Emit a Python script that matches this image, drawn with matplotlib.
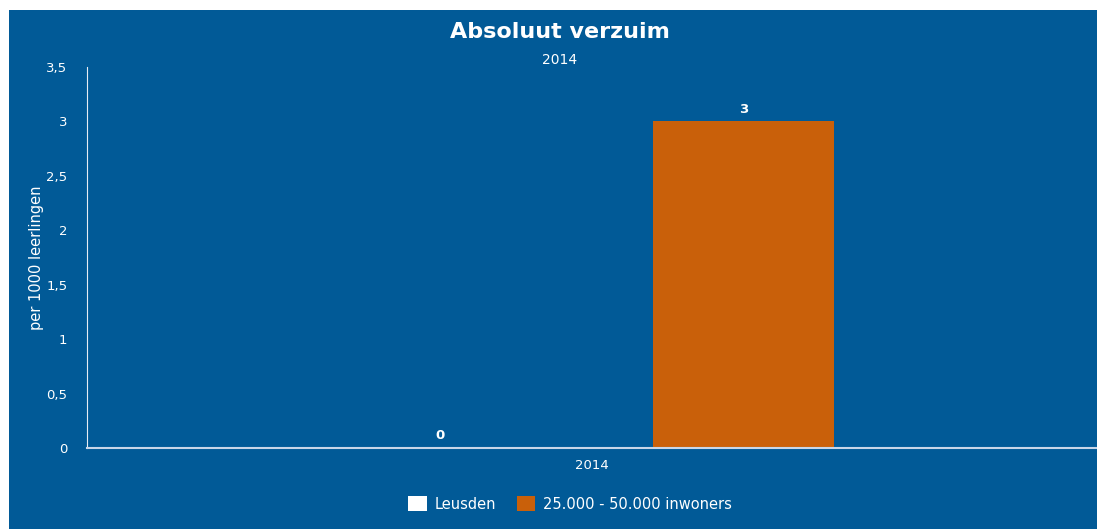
import matplotlib.pyplot as plt
import matplotlib.patches as mpatches
from matplotlib.ticker import FuncFormatter

categories = ['2014']
series_names = ['Leusden', '25.000 - 50.000 inwoners']
series_values = [[0], [3]]
series_colors = ['#ffffff', '#c9600a']
y_ticks = [0, 0.5, 1, 1.5, 2, 2.5, 3, 3.5]

BLUE = '#015a97'
W, H = 1097, 529

fig = plt.figure(figsize=(W / 100, H / 100), dpi=100, facecolor='white')
fig.patches.append(mpatches.Rectangle((9 / W, 0), 1 - 9 / W, 1 - 10 / H,
                                      transform=fig.transFigure, facecolor=BLUE,
                                      edgecolor='none', zorder=-5))

ax = fig.add_axes([87 / W, (H - 448) / H, 1 - 87 / W, (448 - 67) / H])
ax.set_facecolor('none')
ax.set_zorder(2)

offsets = [-0.15, 0.15]
bar_w = 0.18
for name, vals, col, off in zip(series_names, series_values, series_colors, offsets):
    xs = [i + off for i in range(len(categories))]
    bars = ax.bar(xs, vals, width=bar_w, color=col, label=name, zorder=2)
    for b, v in zip(bars, vals):
        ax.annotate(f'{v}', (b.get_x() + b.get_width() / 2, v), xytext=(0, 4),
                    textcoords='offset points', ha='center', va='bottom',
                    color='white', fontsize=9.5, fontweight='bold')

ax.set_xlim(-0.5, len(categories) - 0.5)
ax.set_ylim(0, 3.5)
ax.set_yticks(y_ticks)
ax.yaxis.set_major_formatter(FuncFormatter(lambda v, p: f'{v:g}'.replace('.', ',')))
ax.set_xticks(range(len(categories)))
ax.set_xticklabels(categories)
ax.tick_params(length=0, colors='white', labelsize=9.5)
ax.tick_params(axis='y', pad=14)
ax.tick_params(axis='x', pad=8)

for s in ['top', 'right']:
    ax.spines[s].set_visible(False)
ax.spines['left'].set_color('#e6ecf4')
ax.spines['bottom'].set_color('#c8d6e8')
ax.spines['bottom'].set_linewidth(1.5)

ax.set_ylabel('per 1000 leerlingen', color='white', fontsize=10.5, labelpad=2)

fig.text(560 / W, 1 - 32 / H, 'Absoluut verzuim', ha='center', va='center',
         color='white', fontsize=16, fontweight='bold')
fig.text(560 / W, 1 - 60 / H, '2014', ha='center', va='center',
         color='white', fontsize=10)

leg = fig.legend(loc='center', bbox_to_anchor=(570 / W, 1 - 504 / H), ncol=2,
                 frameon=False, fontsize=10.5, handlelength=1.3, handleheight=1.2,
                 columnspacing=1.4, handletextpad=0.5)
for t in leg.get_texts():
    t.set_color('white')

fig.savefig('out.png', dpi=100, facecolor=fig.get_facecolor())
